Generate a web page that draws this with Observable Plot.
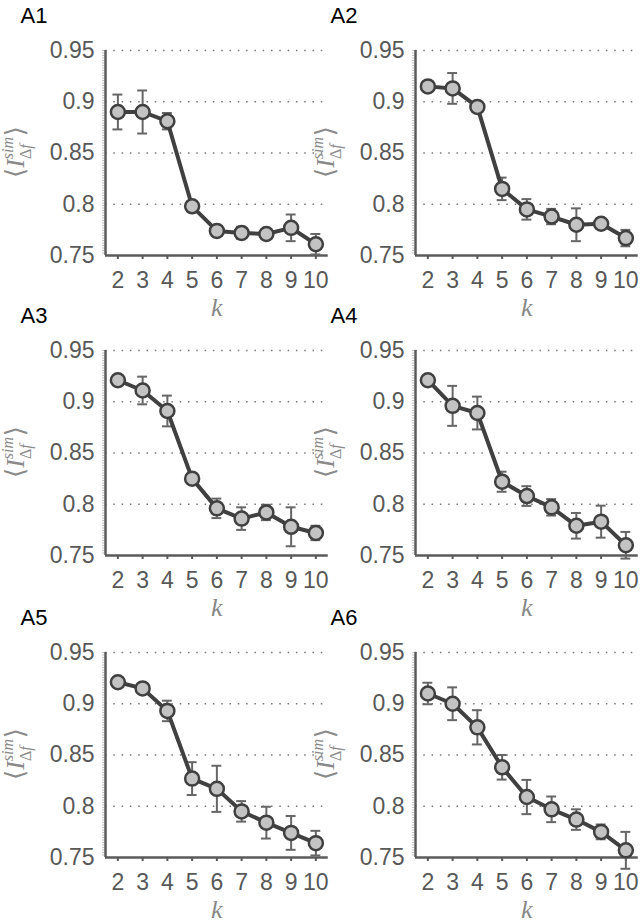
<!DOCTYPE html>
<html><head><meta charset="utf-8">
<script src="https://cdn.jsdelivr.net/npm/d3@7"></script>
<script src="https://cdn.jsdelivr.net/npm/@observablehq/plot@0.6"></script>
<style>
body{margin:0;background:#fff;}
#fig{position:relative;width:640px;height:924px;overflow:hidden;background:#fff;}
.panel{position:absolute;}
svg [aria-label="x-axis tick"] path{stroke-width:2;}
</style></head><body><div id="fig"></div>
<script>
const k = [2, 3, 4, 5, 6, 7, 8, 9, 10];
const xTicks = [2, 3, 4, 5, 6, 7, 8, 9, 10];
const yTicks = [0.75, 0.8, 0.85, 0.9, 0.95];
const gridTicks = [0.8, 0.85, 0.9, 0.95];
const panelNames = ["A1", "A2", "A3", "A4", "A5", "A6"];

const meanA1 = [0.890, 0.890, 0.881, 0.798, 0.774, 0.772, 0.771, 0.777, 0.761];
const errA1  = [0.017, 0.021, 0.008, 0.004, 0.005, 0.006, 0.004, 0.013, 0.010];
const meanA2 = [0.915, 0.913, 0.895, 0.815, 0.795, 0.788, 0.780, 0.781, 0.767];
const errA2  = [0.003, 0.015, 0.005, 0.011, 0.010, 0.0075, 0.016, 0.005, 0.008];
const meanA3 = [0.921, 0.911, 0.891, 0.825, 0.796, 0.786, 0.792, 0.778, 0.772];
const errA3  = [0.002, 0.0135, 0.015, 0.003, 0.0095, 0.011, 0.0075, 0.019, 0.007];
const meanA4 = [0.921, 0.896, 0.889, 0.822, 0.808, 0.797, 0.779, 0.783, 0.760];
const errA4  = [0.002, 0.0195, 0.016, 0.0098, 0.0096, 0.008, 0.0125, 0.0156, 0.013];
const meanA5 = [0.921, 0.915, 0.893, 0.827, 0.817, 0.795, 0.784, 0.774, 0.764];
const errA5  = [0.002, 0.003, 0.010, 0.016, 0.0225, 0.010, 0.0155, 0.0165, 0.012];
const meanA6 = [0.910, 0.900, 0.877, 0.838, 0.809, 0.797, 0.787, 0.775, 0.757];
const errA6  = [0.0105, 0.016, 0.0167, 0.012, 0.0167, 0.0125, 0.010, 0.0072, 0.018];

const means = [meanA1, meanA2, meanA3, meanA4, meanA5, meanA6];
const errs = [errA1, errA2, errA3, errA4, errA5, errA6];

const fig = document.getElementById("fig");
const colLeft = [0, 310];
const colWidth = [335, 330];
const rowTop = [0, 300, 600];
const plotW = 222.75;

panelNames.forEach((name, idx) => {
  const col = idx % 2, row = Math.floor(idx / 2);
  const data = k.map((kk, i) => ({k: kk, v: means[idx][i], e: errs[idx][i]}));
  const W = colWidth[col];
  const mTop = row === 2 ? 52 : 50;
  const svg = Plot.plot({
    width: W, height: mTop + 205 + 69,
    marginLeft: 105, marginRight: W - 105 - plotW, marginTop: mTop, marginBottom: 69,
    style: {background: "transparent", fontFamily: "'Liberation Sans', Arial, sans-serif", fontSize: "23px", color: "#585858", overflow: "visible"},
    x: {domain: [1.5, 10.5], ticks: xTicks, tickSize: 4, tickPadding: 12, label: null, tickFormat: d => String(d)},
    y: {domain: [0.75, 0.95], ticks: yTicks, tickSize: 0, tickPadding: 11, label: null, tickFormat: d => String(d)},
    marks: [
      Plot.ruleY(gridTicks, {stroke: "#777", strokeWidth: 1.5, strokeDasharray: "1.5,6.8"}),
      Plot.ruleX([1.5], {stroke: "#888", strokeWidth: 1, strokeDasharray: "1,1.5", dx: -2.5}),
      Plot.ruleX([1.5], {stroke: "#5a5a5a", strokeWidth: 2.5}),
      Plot.ruleY([0.75], {stroke: "#5a5a5a", strokeWidth: 2.5}),
      Plot.ruleX(data, {x: "k", y1: d => d.v - d.e, y2: d => d.v + d.e, stroke: "#666", strokeWidth: 2}),
      Plot.ruleY(data, {y: d => d.v + d.e, x1: d => d.k - 0.2, x2: d => d.k + 0.2, stroke: "#666", strokeWidth: 2}),
      Plot.ruleY(data, {y: d => d.v - d.e, x1: d => d.k - 0.2, x2: d => d.k + 0.2, stroke: "#666", strokeWidth: 2}),
      Plot.line(data, {x: "k", y: "v", stroke: "#404040", strokeWidth: 4}),
      Plot.dot(data, {x: "k", y: "v", r: 7, fill: "#c3c3c3", stroke: "#404040", strokeWidth: 2.5}),
      Plot.text([name], {text: d => d, frameAnchor: "top-left", dx: -85, dy: -28, lineAnchor: "bottom", textAnchor: "start", fontSize: 22, fill: "#000"}),
      Plot.text(["k"], {text: d => d, frameAnchor: "bottom", dy: 60, fontSize: 26, fontStyle: "italic", fontFamily: "'Liberation Serif', 'DejaVu Serif', serif", fill: "#888"})
    ]
  });
  // y-axis label ⟨I^sim_Δf⟩
  const g = d3.select(svg).append("g").attr("transform", `translate(24,${mTop + 102}) rotate(-90)`);
  const t = g.append("text").attr("text-anchor", "middle").attr("fill", "#8a8a8a")
    .attr("font-family", "'Liberation Serif', 'DejaVu Serif', serif").attr("font-size", 26);
  t.append("tspan").text("\u27E8");
  t.append("tspan").attr("font-style", "italic").text("I");
  t.append("tspan").attr("font-style", "italic").attr("font-size", 16).attr("dy", -11).text("sim");
  t.append("tspan").attr("font-size", 16).attr("dx", -22).attr("dy", 18).text("\u0394");
  t.append("tspan").attr("font-style", "italic").attr("font-size", 16).text("f");
  t.append("tspan").attr("dx", 8).attr("dy", -7).text("\u27E9");

  const div = document.createElement("div");
  div.className = "panel";
  div.style.left = colLeft[col] + "px";
  div.style.top = rowTop[row] + "px";
  div.appendChild(svg);
  fig.appendChild(div);
});
</script></body></html>
